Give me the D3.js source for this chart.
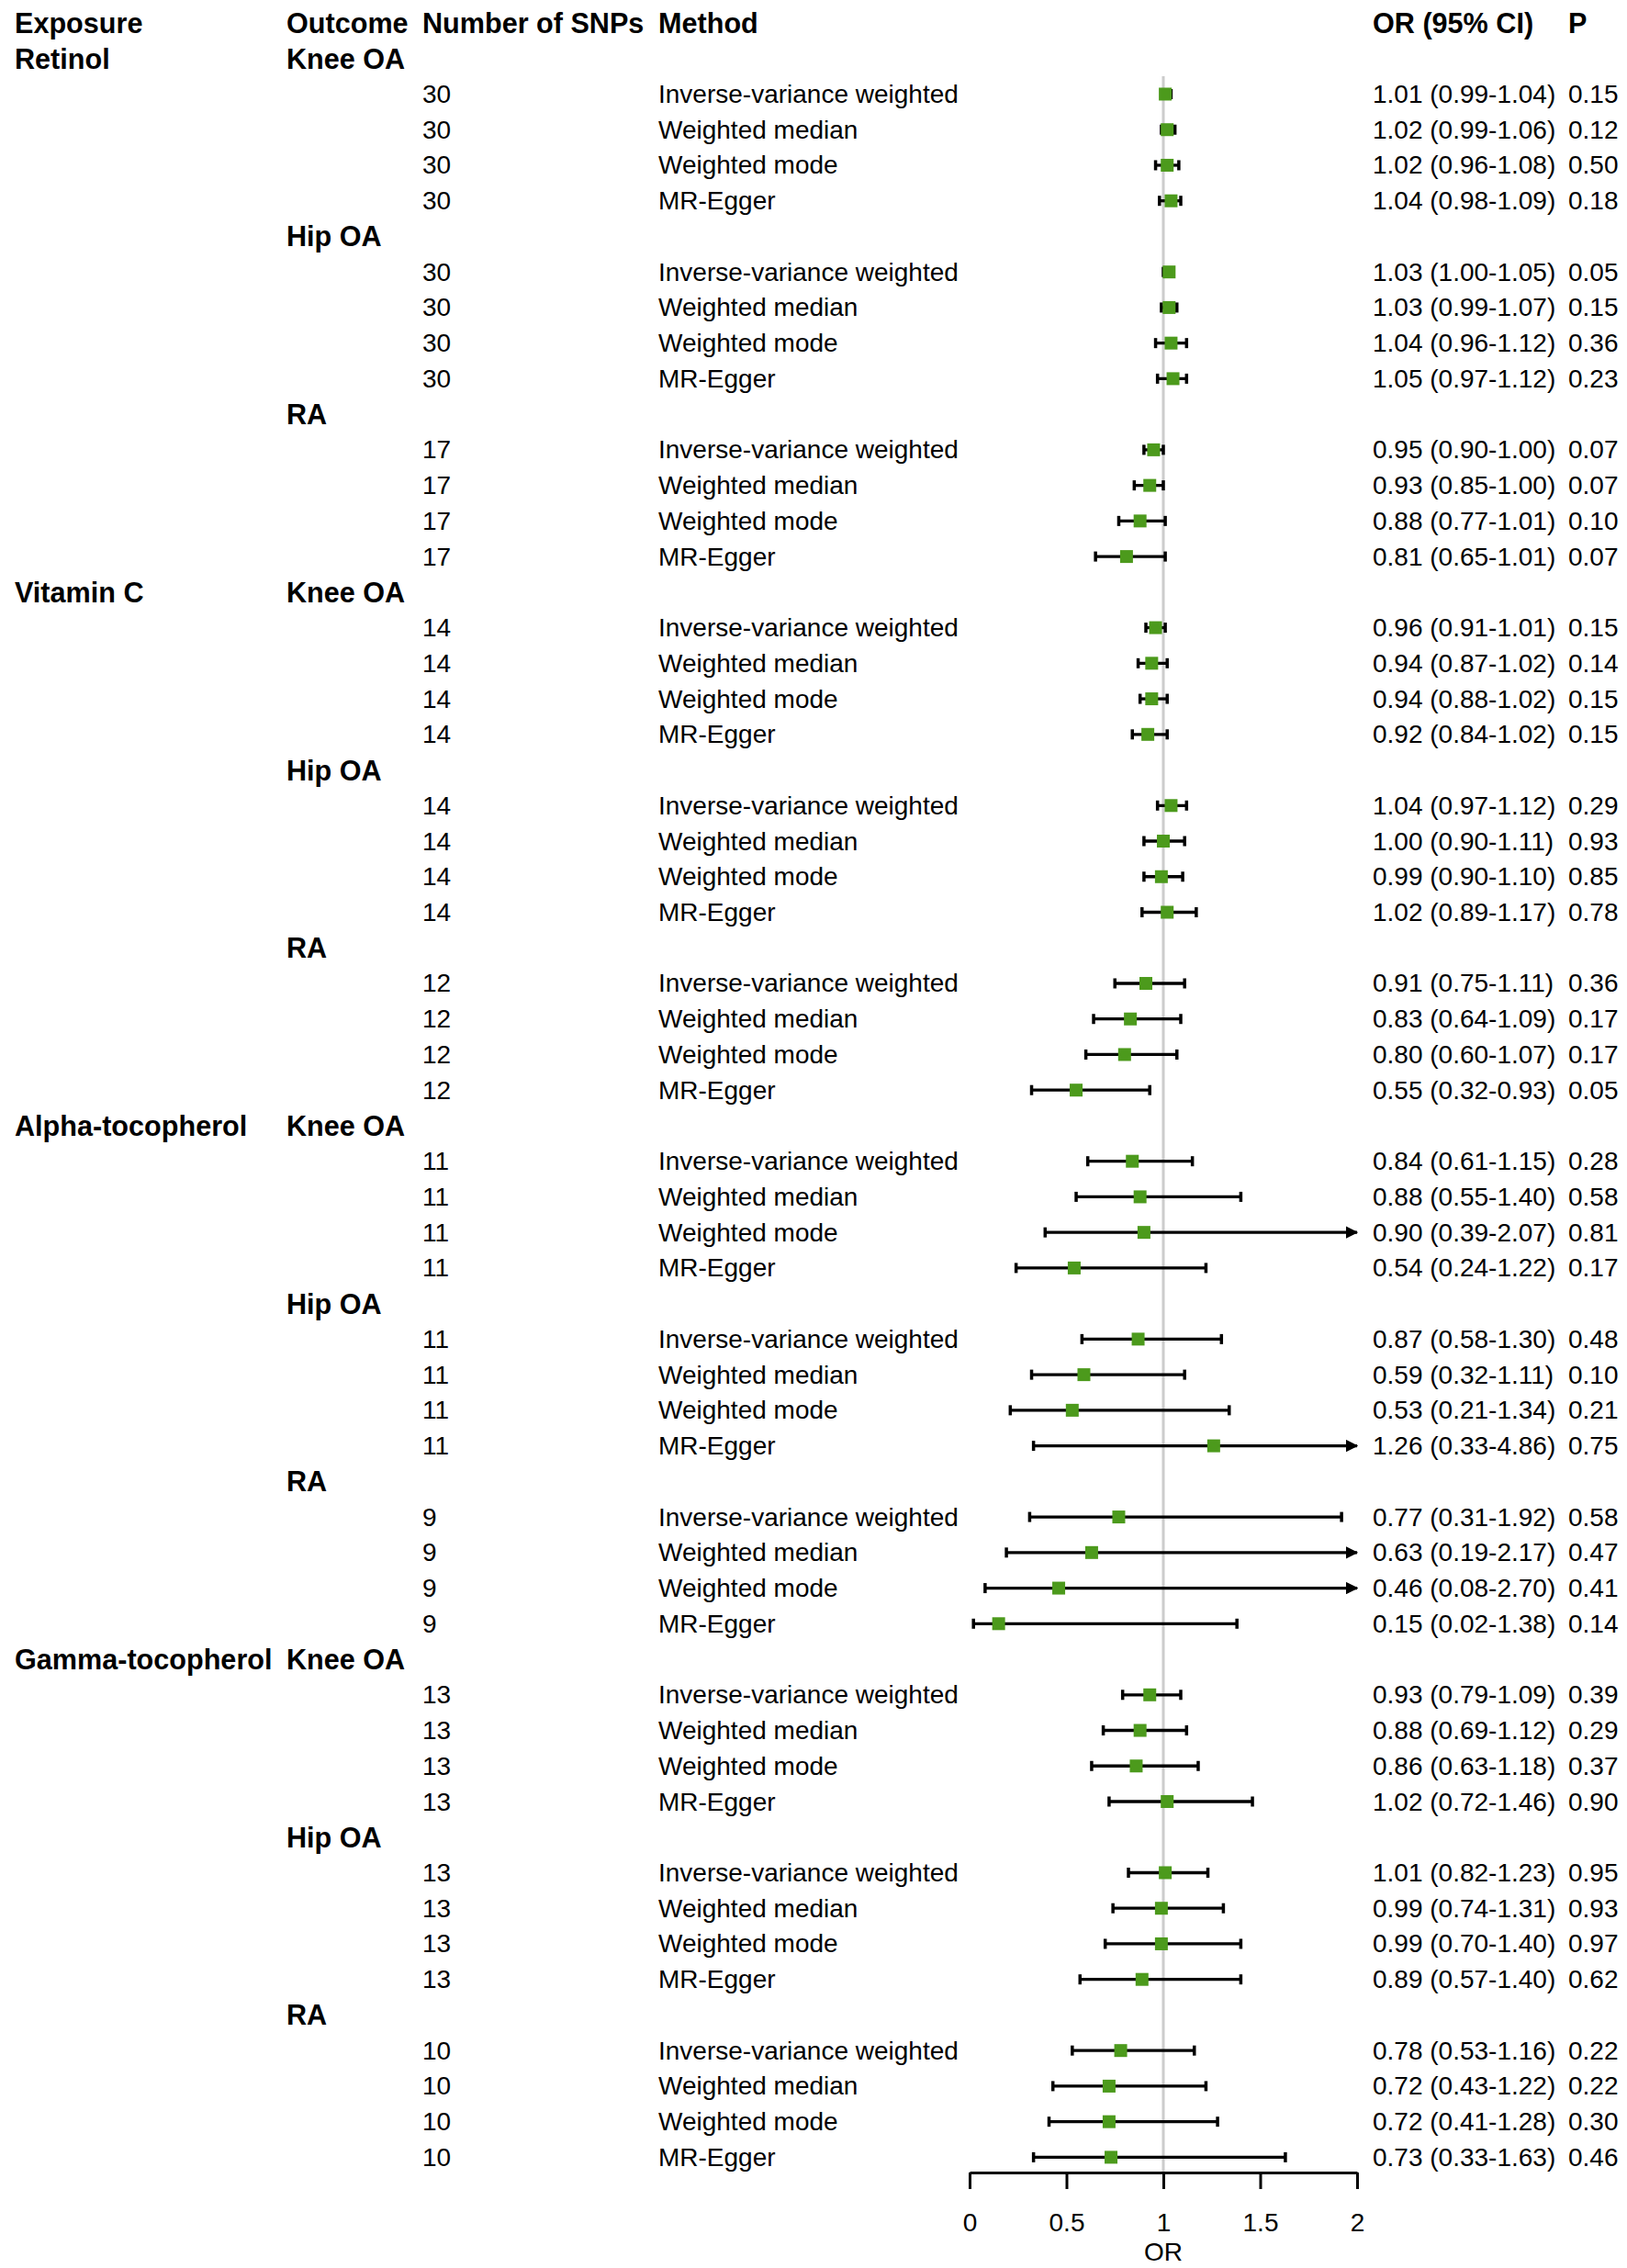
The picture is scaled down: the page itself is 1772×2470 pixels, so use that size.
<!DOCTYPE html>
<html>
<head>
<meta charset="utf-8">
<script src="https://cdn.jsdelivr.net/npm/d3@7"></script>
<style>
  body { margin: 0; background: #fff; }
  text { font-family: "Liberation Sans", Arial, sans-serif; fill: #000; }
</style>
</head>
<body>
<svg id="forest"></svg>
<script>
// Data
const exposures = ["Retinol", "Vitamin C", "Alpha-tocopherol", "Gamma-tocopherol"];
const outcomes = ["Knee OA", "Hip OA", "RA"];
const methods = ["Inverse-variance weighted", "Weighted median", "Weighted mode", "MR-Egger"];
// number of SNPs per exposure x outcome
const snps = [[30, 30, 17], [14, 14, 12], [11, 11, 9], [13, 13, 10]];

const orValues = [
  1.01, 1.02, 1.02, 1.04,  1.03, 1.03, 1.04, 1.05,  0.95, 0.93, 0.88, 0.81,
  0.96, 0.94, 0.94, 0.92,  1.04, 1.00, 0.99, 1.02,  0.91, 0.83, 0.80, 0.55,
  0.84, 0.88, 0.90, 0.54,  0.87, 0.59, 0.53, 1.26,  0.77, 0.63, 0.46, 0.15,
  0.93, 0.88, 0.86, 1.02,  1.01, 0.99, 0.99, 0.89,  0.78, 0.72, 0.72, 0.73
];
const lowerCI = [
  0.99, 0.99, 0.96, 0.98,  1.00, 0.99, 0.96, 0.97,  0.90, 0.85, 0.77, 0.65,
  0.91, 0.87, 0.88, 0.84,  0.97, 0.90, 0.90, 0.89,  0.75, 0.64, 0.60, 0.32,
  0.61, 0.55, 0.39, 0.24,  0.58, 0.32, 0.21, 0.33,  0.31, 0.19, 0.08, 0.02,
  0.79, 0.69, 0.63, 0.72,  0.82, 0.74, 0.70, 0.57,  0.53, 0.43, 0.41, 0.33
];
const upperCI = [
  1.04, 1.06, 1.08, 1.09,  1.05, 1.07, 1.12, 1.12,  1.00, 1.00, 1.01, 1.01,
  1.01, 1.02, 1.02, 1.02,  1.12, 1.11, 1.10, 1.17,  1.11, 1.09, 1.07, 0.93,
  1.15, 1.40, 2.07, 1.22,  1.30, 1.11, 1.34, 4.86,  1.92, 2.17, 2.70, 1.38,
  1.09, 1.12, 1.18, 1.46,  1.23, 1.31, 1.40, 1.40,  1.16, 1.22, 1.28, 1.63
];
const pValues = [
  "0.15", "0.12", "0.50", "0.18",  "0.05", "0.15", "0.36", "0.23",  "0.07", "0.07", "0.10", "0.07",
  "0.15", "0.14", "0.15", "0.15",  "0.29", "0.93", "0.85", "0.78",  "0.36", "0.17", "0.17", "0.05",
  "0.28", "0.58", "0.81", "0.17",  "0.48", "0.10", "0.21", "0.75",  "0.58", "0.47", "0.41", "0.14",
  "0.39", "0.29", "0.37", "0.90",  "0.95", "0.93", "0.97", "0.62",  "0.22", "0.22", "0.30", "0.46"
];
const xTicks = [0, 0.5, 1, 1.5, 2];

// Layout
const W = 1772, H = 2470;
const col = { exposure: 16, outcome: 312, snp: 460, method: 717, or: 1495, p: 1708 };
const headerY = 25, rowStep = 38.74;
const axisY = 2366;
const green = "#4c9a1c";

const svg = d3.select("#forest").attr("width", W).attr("height", H);
svg.append("rect").attr("width", W).attr("height", H).attr("fill", "#fff");

// Build the rows: one label row per outcome, then one row per method
const rows = [];
let r = 1;
exposures.forEach((ex, ei) => {
  outcomes.forEach((oc, oi) => {
    rows.push({ type: "group", row: r++, exposure: oi === 0 ? ex : "", outcome: oc });
    methods.forEach((m, mi) => {
      const k = ei * 12 + oi * 4 + mi;
      rows.push({
        type: "est", row: r++, snp: snps[ei][oi], method: m,
        or: orValues[k], lo: lowerCI[k], hi: upperCI[k], p: pValues[k]
      });
    });
  });
});

const y = d3.scaleLinear().domain([0, 1]).range([headerY, headerY + rowStep]);
const x = d3.scaleLinear().domain([0, 2]).range([1056, 1478]);

// Header
const headers = [
  ["Exposure", col.exposure], ["Outcome", col.outcome], ["Number of SNPs", col.snp],
  ["Method", col.method], ["OR (95% CI)", col.or], ["P", col.p]
];
svg.selectAll(".hdr").data(headers).join("text")
  .attr("class", "hdr")
  .attr("x", d => d[1]).attr("y", y(0))
  .attr("dominant-baseline", "central")
  .style("font-size", "30.6px").style("font-weight", "bold")
  .text(d => d[0]);

// Group rows (exposure + outcome)
const groups = rows.filter(d => d.type === "group");
svg.selectAll(".exp").data(groups.filter(d => d.exposure)).join("text")
  .attr("class", "exp")
  .attr("x", col.exposure).attr("y", d => y(d.row))
  .attr("dominant-baseline", "central")
  .style("font-size", "30.6px").style("font-weight", "bold")
  .text(d => d.exposure);
svg.selectAll(".out").data(groups).join("text")
  .attr("class", "out")
  .attr("x", col.outcome).attr("y", d => y(d.row))
  .attr("dominant-baseline", "central")
  .style("font-size", "30.6px").style("font-weight", "bold")
  .text(d => d.outcome);

// Estimate rows text
const est = rows.filter(d => d.type === "est");
const textCols = [
  [col.snp, d => d.snp],
  [col.method, d => d.method],
  [col.or, d => `${d.or.toFixed(2)} (${d.lo.toFixed(2)}-${d.hi.toFixed(2)})`],
  [col.p, d => d.p]
];
textCols.forEach(([cx, f], i) => {
  svg.selectAll(".c" + i).data(est).join("text")
    .attr("class", "c" + i)
    .attr("x", cx).attr("y", d => y(d.row))
    .attr("dominant-baseline", "central")
    .style("font-size", "28px")
    .text(f);
});

// Reference line at OR = 1
svg.append("line")
  .attr("x1", x(1)).attr("x2", x(1))
  .attr("y1", y(1.5)).attr("y2", axisY)
  .attr("stroke", "#cccccc").attr("stroke-width", 3);

// Arrow marker for CIs beyond the axis
svg.append("defs").append("marker")
  .attr("id", "arrow")
  .attr("viewBox", "0 0 10 10").attr("refX", 9).attr("refY", 5)
  .attr("markerWidth", 4.2).attr("markerHeight", 4.2)
  .attr("markerUnits", "strokeWidth")
  .attr("orient", "auto")
  .append("path").attr("d", "M0,0L10,5L0,10Z").attr("fill", "#000");

const xMax = x.domain()[1];
const ci = svg.append("g");
ci.selectAll(".ci").data(est).join("line")
  .attr("class", "ci")
  .attr("x1", d => x(d.lo)).attr("x2", d => x(Math.min(d.hi, xMax)))
  .attr("y1", d => y(d.row)).attr("y2", d => y(d.row))
  .attr("stroke", "#000").attr("stroke-width", 3.3)
  .attr("marker-end", d => d.hi > xMax ? "url(#arrow)" : null);

const capH = 5.5;
ci.selectAll(".capL").data(est).join("line")
  .attr("class", "capL")
  .attr("x1", d => x(d.lo)).attr("x2", d => x(d.lo))
  .attr("y1", d => y(d.row) - capH).attr("y2", d => y(d.row) + capH)
  .attr("stroke", "#000").attr("stroke-width", 3.5);
ci.selectAll(".capR").data(est.filter(d => d.hi <= xMax)).join("line")
  .attr("class", "capR")
  .attr("x1", d => x(d.hi)).attr("x2", d => x(d.hi))
  .attr("y1", d => y(d.row) - capH).attr("y2", d => y(d.row) + capH)
  .attr("stroke", "#000").attr("stroke-width", 3.5);

const box = 14;
ci.selectAll(".box").data(est).join("rect")
  .attr("class", "box")
  .attr("x", d => x(d.or) - box / 2).attr("y", d => y(d.row) - box / 2)
  .attr("width", box).attr("height", box)
  .attr("fill", green);

// X axis
const axis = svg.append("g")
  .attr("transform", `translate(0,${axisY})`)
  .call(d3.axisBottom(x).tickValues(xTicks).tickSize(18).tickSizeOuter(0).tickPadding(26)
    .tickFormat(d => d));
axis.select(".domain").attr("stroke-width", 3);
axis.selectAll(".tick line").attr("stroke-width", 3);
axis.selectAll(".tick text")
  .style("font-size", "28px")
  .style("font-family", "'Liberation Sans', Arial, sans-serif");

svg.append("text")
  .attr("x", x(1)).attr("y", 2452)
  .attr("text-anchor", "middle").attr("dominant-baseline", "central")
  .style("font-size", "28px")
  .text("OR");
</script>
</body>
</html>
